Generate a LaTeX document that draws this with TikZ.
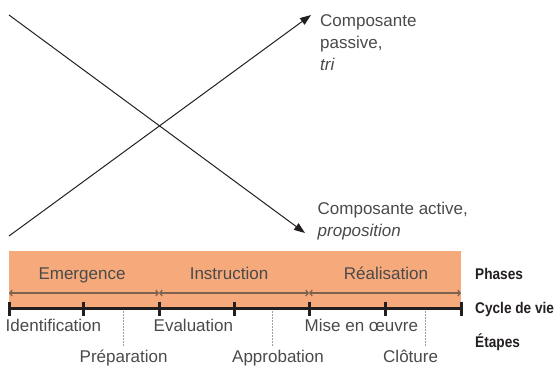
\documentclass[tikz,border=0pt]{standalone}
\usepackage{fontspec}
\setmainfont{Liberation Sans}
\newfontfamily\sidefont[FakeStretch=0.88]{Liberation Sans}
\usetikzlibrary{arrows.meta,positioning}
\definecolor{phasefill}{HTML}{F6AA7B}
\definecolor{inkgrey}{HTML}{4A4A4A}
\definecolor{axisblack}{HTML}{231F20}
\definecolor{spanbrown}{HTML}{7C6150}
\definecolor{guidegrey}{HTML}{A0A0A0}

\begin{document}
\begin{tikzpicture}[x=1pt,y=-1pt,
  txt/.style={font=\fontsize{17}{22}\selectfont,text=inkgrey,inner sep=0pt},
  sidelabel/.style={font=\sidefont\bfseries\fontsize{15.5}{18}\selectfont,text=axisblack,inner sep=0pt,anchor=base west},
  crossarrow/.style={axisblack,line width=1pt,-{Triangle[length=11pt,width=8pt]}},
  phasearrow/.style={spanbrown,line width=1.2pt,{Straight Barb[length=2.5pt,width=6pt]}-{Straight Barb[length=2.5pt,width=6pt]}},
  tickmark/.style={axisblack,line width=3pt},
  guideline/.style={guidegrey,line width=0.8pt,dash pattern=on 1.5pt off 1.5pt}]
  \useasboundingbox (0,0) rectangle (556,367);

  % Components
  \coordinate (pstart) at (9,236);
  \coordinate (ptip) at (311,15);
  \coordinate (astart) at (9,15);
  \coordinate (atip) at (305,233);
  \draw[crossarrow] (astart) -- (atip);
  \draw[crossarrow] (pstart) -- (ptip);
  \node[txt,anchor=north west,align=left] (passive) at (320,14.5) {Composante\\passive,\\\textit{tri}};
  \node[txt,anchor=north west,align=left] (active) at (317.5,201.5) {Composante active,\\\textit{proposition}};

  % Phases
  \node[fill=phasefill,inner sep=0pt,minimum width=452pt,minimum height=58pt] (bar) at (235,280) {};
  \node[txt,anchor=base] (emergence) at (82,279) {Emergence};
  \node[txt,anchor=base] (instruction) at (229,279) {Instruction};
  \node[txt,anchor=base] (realisation) at (386,279) {Réalisation};
  \coordinate (s0) at (9,293);
  \coordinate (s1) at (159,293);
  \coordinate (s2) at (309,293);
  \coordinate (s3) at (461,293);
  \draw[phasearrow] (s0) -- (s1);
  \draw[phasearrow] (s1) -- (s2);
  \draw[phasearrow] (s2) -- (s3);

  % Life cycle
  \foreach \n/\x in {0/9,1/83,2/159,3/234,4/309,5/385,6/461}
    \coordinate (t\n) at (\x,308.5);
  \draw[axisblack,line width=2.3pt] (t0) -- (t6);
  \foreach \n in {0,...,6}
    \draw[tickmark] ([yshift=7pt]t\n) -- ([yshift=-7pt]t\n);

  % Steps
  \foreach \n/\x in {1/123,2/272,3/425}{
    \coordinate (g\n) at (\x,311);
    \coordinate (h\n) at (\x,347);
    \draw[guideline] (g\n) -- (h\n);
  }
  \node[txt,anchor=base west] (identification) at (5.5,331.5) {Identification};
  \node[txt,anchor=base west] (evaluation) at (153.5,331.5) {Evaluation};
  \node[txt,anchor=base west] (miseenoeuvre) at (304.5,331.5) {Mise en œuvre};
  \node[txt,anchor=base west] (preparation) at (79.5,362.5) {Préparation};
  \node[txt,anchor=base west] (approbation) at (232,362.5) {Approbation};
  \node[txt,anchor=base west] (cloture) at (383,362.5) {Clôture};

  % Legend
  \node[sidelabel] (phases) at (475,279) {Phases};
  \node[sidelabel] (cycle) at (475,313) {Cycle de vie};
  \node[sidelabel] (etapes) at (475,347) {Étapes};
\end{tikzpicture}
\end{document}
